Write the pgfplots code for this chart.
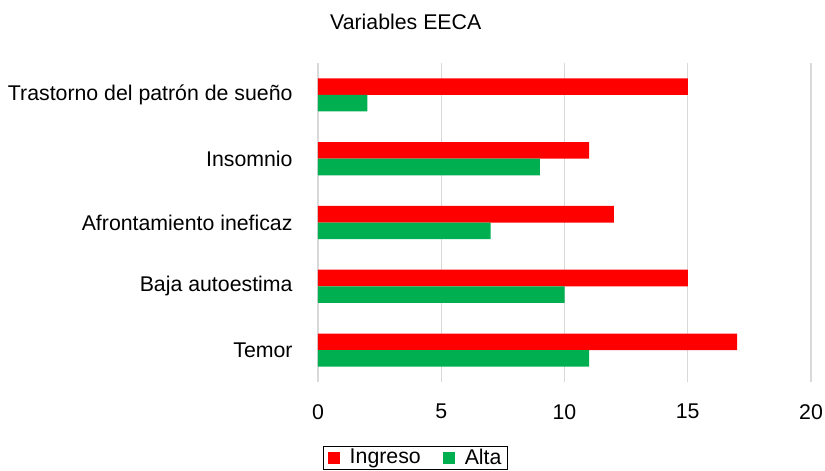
\documentclass[border=0pt]{standalone}
\usepackage{pgfplots}
\pgfplotsset{compat=1.18}
\usepackage{fontspec}
\setmainfont{Liberation Sans}
\definecolor{ingreso}{HTML}{FF0000}
\definecolor{alta}{HTML}{00B050}
\definecolor{gridc}{HTML}{D9D9D9}
\begin{document}
\fontsize{21}{25}\selectfont
\begin{tikzpicture}[x=1pt,y=1pt]
\path[use as bounding box] (0,0) rectangle (825,471);
\begin{axis}[
  at={(318pt,89pt)}, anchor=south west,
  scale only axis, width=493pt, height=319pt,
  xbar, bar width=0.26,
  xmin=0, xmax=20, ymin=-0.5, ymax=4.5,
  xtick={0,5,10,15,20},
  ytick={0,1,2,3,4},
  yticklabels={Temor,Baja autoestima,Afrontamiento ineficaz,Insomnio,Trastorno del patrón de sueño},
  /pgf/number format/assume math mode=true,
  ticklabel style={font=\fontsize{21.3}{25}\selectfont},
  xticklabel style={yshift=-15pt},
  yticklabel style={xshift=-14pt},
  axis line style={draw=none},
  major tick style={draw=none},
  xmajorgrids, ymajorgrids=false,
  grid style={gridc, line width=1.3pt},
  title={Variables EECA},
  title style={at={(axis description cs:0.178,1.11)}, anchor=center, font=\fontsize{21.3}{25}\selectfont},
  legend columns=2,
  legend style={at={(axis description cs:0.198,-0.238)}, anchor=center, draw=black, line width=0.8pt,
    font=\fontsize{21.3}{25}\selectfont, inner xsep=4pt, inner ysep=0pt,
    /tikz/every odd column/.append style={column sep=8pt},
    /tikz/every even column/.append style={column sep=20pt}},
  legend image code/.code={\fill[#1] (0pt,-6pt) rectangle (12pt,6pt);},
]
\addplot[fill=ingreso, draw=none, bar shift=0.13] coordinates {(17,0) (15,1) (12,2) (11,3) (15,4)};
\addlegendentry{Ingreso}
\addplot[fill=alta, draw=none, bar shift=-0.13] coordinates {(11,0) (10,1) (7,2) (9,3) (2,4)};
\addlegendentry{Alta}
\end{axis}
\end{tikzpicture}
\end{document}
